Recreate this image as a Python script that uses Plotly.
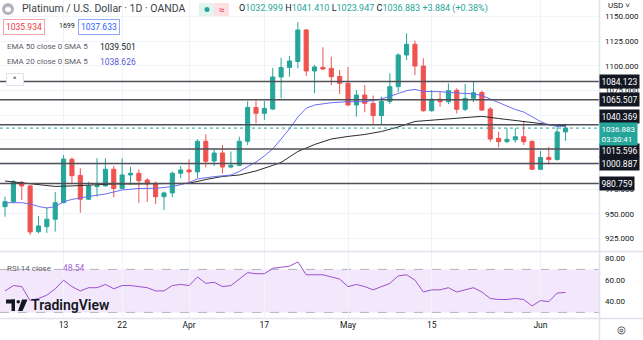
import plotly.graph_objects as go

# ---------------- data ----------------
dates = [
    "2023-03-02", "2023-03-03", "2023-03-06", "2023-03-07", "2023-03-08", "2023-03-09", "2023-03-10",
    "2023-03-13", "2023-03-14", "2023-03-15", "2023-03-16", "2023-03-17", "2023-03-20", "2023-03-21",
    "2023-03-22", "2023-03-23", "2023-03-24", "2023-03-27", "2023-03-28", "2023-03-29", "2023-03-30",
    "2023-03-31", "2023-04-03", "2023-04-04", "2023-04-05", "2023-04-06", "2023-04-10", "2023-04-11",
    "2023-04-12", "2023-04-13", "2023-04-14", "2023-04-17", "2023-04-18", "2023-04-19", "2023-04-20",
    "2023-04-21", "2023-04-24", "2023-04-25", "2023-04-26", "2023-04-27", "2023-04-28", "2023-05-01",
    "2023-05-02", "2023-05-03", "2023-05-04", "2023-05-05", "2023-05-08", "2023-05-09", "2023-05-10",
    "2023-05-11", "2023-05-12", "2023-05-15", "2023-05-16", "2023-05-17", "2023-05-18", "2023-05-19",
    "2023-05-22", "2023-05-23", "2023-05-24", "2023-05-25", "2023-05-26", "2023-05-29", "2023-05-30",
    "2023-05-31", "2023-06-01", "2023-06-02", "2023-06-05", "2023-06-06",
]
opens = [957.2, 962.2, 981.9, 978.2, 931.8, 936.9, 944.4, 961.2, 1005.2, 988.8, 964.7, 977.5, 978.2, 995.1,
         975.6, 989.3, 991.0, 984.2, 980.9, 967.3, 971.1, 991.0, 994.4, 992.4, 1023.5, 1003.5, 1011.6, 997.4,
         999.1, 1023.5, 1057.8, 1051.9, 1056.2, 1088.7, 1098.3, 1104.4, 1136.4, 1094.8, 1098.5, 1097.5, 1089.2,
         1082.3, 1060.3, 1070.4, 1062.0, 1049.5, 1063.9, 1078.9, 1111.0, 1121.9, 1099.8, 1054.5, 1066.1, 1063.6,
         1075.2, 1055.9, 1067.1, 1073.0, 1056.2, 1026.5, 1023.1, 1025.0, 1028.1, 1023.3, 995.1, 1007.1, 1005.0,
         1032.999]
highs = [967.3, 984.2, 983.2, 979.2, 947.7, 956.6, 972.1, 1009.6, 1007.1, 996.1, 982.5, 1006.3, 1006.3, 998.4,
         1006.3, 997.5, 994.9, 986.0, 982.7, 972.4, 992.7, 998.4, 1005.2, 1025.5, 1030.6, 1015.7, 1019.7, 1013.1,
         1028.2, 1064.1, 1064.4, 1064.4, 1097.8, 1108.0, 1110.0, 1144.2, 1137.4, 1100.9, 1118.8, 1109.3, 1095.8,
         1098.9, 1075.5, 1080.6, 1069.9, 1068.7, 1092.5, 1112.7, 1133.0, 1125.5, 1107.7, 1075.5, 1073.8, 1082.3,
         1077.2, 1081.6, 1083.9, 1074.8, 1058.3, 1033.2, 1036.7, 1036.7, 1043.4, 1024.8, 1013.6, 1018.0, 1039.0,
         1041.410]
lows = [947.0, 960.6, 963.9, 928.5, 930.2, 930.5, 931.8, 960.6, 980.9, 951.0, 963.9, 967.3, 977.5, 966.5,
        974.8, 979.2, 961.2, 961.9, 959.9, 953.8, 966.7, 986.0, 981.5, 986.0, 996.9, 998.4, 991.0, 996.1,
        998.1, 1019.7, 1041.7, 1045.1, 1055.2, 1067.1, 1089.0, 1097.5, 1089.7, 1072.2, 1095.8, 1080.6, 1071.5,
        1059.3, 1048.4, 1052.9, 1040.0, 1040.0, 1061.3, 1073.5, 1105.9, 1090.7, 1053.5, 1053.5, 1058.3, 1061.3,
        1051.7, 1054.2, 1063.3, 1054.2, 1023.1, 1017.2, 1021.5, 1022.1, 1019.7, 994.4, 994.4, 1000.0, 1003.8,
        1023.947]
closes = [962.2, 982.5, 978.2, 931.5, 937.6, 944.4, 961.2, 1005.5, 988.6, 964.7, 978.2, 978.5, 995.1, 975.6,
          989.3, 991.0, 983.5, 980.2, 967.3, 971.1, 991.0, 994.4, 992.4, 1023.5, 1003.2, 1011.6, 997.4, 999.1,
          1023.5, 1057.8, 1051.9, 1056.8, 1088.7, 1098.3, 1104.9, 1136.4, 1094.8, 1098.9, 1096.8, 1089.0, 1082.3,
          1060.3, 1070.4, 1062.0, 1049.5, 1063.9, 1078.9, 1111.0, 1121.9, 1099.8, 1054.5, 1066.1, 1063.6, 1074.8,
          1055.9, 1067.1, 1072.8, 1055.2, 1025.8, 1023.1, 1025.5, 1028.1, 1023.1, 995.1, 1007.1, 1005.0, 1032.999,
          1036.883]

# EMA 20 (blue) read at selected candles (0-based candle index)
ema20_idx = [0, 2, 3, 4, 5, 6, 7, 8, 10, 12, 14, 16, 18, 20, 22, 23, 25, 27, 28, 29, 30, 31, 32, 33, 34, 35,
             36, 37, 38, 39, 41, 43, 45, 46, 47, 48, 49, 50, 52, 54, 56, 57, 58, 59, 60, 61, 62, 63, 64, 65, 66, 67]
ema20_val = [961.2, 961.2, 959.9, 957.4, 955.8, 957.2, 962.2, 964.5, 967.5, 970.0, 974.1, 975.6, 975.8, 977.5,
             981.7, 985.3, 987.6, 989.3, 992.9, 997.4, 1002.5, 1008.6, 1015.7, 1025.8, 1036.0, 1048.1, 1057.0,
             1060.3, 1061.6, 1062.6, 1063.6, 1063.6, 1066.4, 1068.9, 1072.0, 1074.8, 1076.2, 1074.0, 1073.8,
             1072.5, 1071.5, 1069.9, 1066.4, 1062.3, 1058.6, 1055.7, 1053.2, 1048.1, 1043.6, 1040.0, 1038.7, 1038.626]

# EMA 50 (black) read at selected candles
ema50_idx = [0, 2, 4, 6, 8, 10, 13, 16, 19, 22, 24, 26, 28, 30, 32, 33, 34, 35, 37, 39, 41, 43, 45, 47, 49,
             52, 55, 57, 59, 62, 64, 66, 67]
ema50_val = [983.2, 981.5, 979.2, 977.7, 978.2, 979.2, 980.2, 980.2, 980.2, 980.9, 984.7, 987.8, 989.3, 993.4,
             999.0, 1002.0, 1007.6, 1013.1, 1020.2, 1025.8, 1028.4, 1030.4, 1033.4, 1038.0, 1043.6, 1045.8,
             1047.6, 1048.8, 1046.6, 1043.6, 1041.0, 1039.5, 1039.501]

rsi_val = [50, 55, 54, 41, 43, 46, 52, 60, 54, 50, 53, 53, 56, 52, 55, 55, 54, 53, 50, 50, 55, 56, 55, 63,
           57, 58, 54, 55, 61, 67, 66, 66, 71, 72, 73, 77, 65, 65, 65, 63, 61, 54, 56, 54, 51, 54, 57, 64,
           65, 60, 49, 51, 51, 53, 49, 51, 53, 49, 43, 42, 42, 43, 42, 36, 41, 40, 48, 48.54]

levels = [1084.123, 1065.507, 1040.369, 1015.596, 1000.887, 980.759]
level_shift = [0, 0, 8, -1, 0, 0]
last_price = 1036.883
countdown = "03:30:41"

price_ticks = [925, 950, 975, 1000, 1025, 1050, 1075, 1100, 1125, 1150]
hidden_ticks = [1000, 1025, 1050]
rsi_ticks = [40, 60, 80]

time_tickvals = ["2023-03-13", "2023-03-22", "2023-04-03", "2023-04-17", "2023-05-01", "2023-05-15", "2023-06-01"]
time_ticktext = ["13", "22", "Apr", "17", "May", "15", "Jun"]

# ---------------- style ----------------
UP = "#26a69a"
DOWN = "#ef5350"
TXT = "#131722"
GRID = "#f0f3fa"
BORDER = "#e0e3eb"
FONT = "Roboto, Arial, sans-serif"

W, H = 643, 340
PL, PR = 0, 599
PT, PB = 0, 318


def ax(px):
    return (px - PL) / (PR - PL)


def ay(py):
    return 1 - (py - PT) / (PB - PT)


fig = go.Figure()

fig.add_trace(go.Candlestick(
    x=dates, open=opens, high=highs, low=lows, close=closes,
    increasing=dict(line=dict(color=UP, width=1), fillcolor=UP),
    decreasing=dict(line=dict(color=DOWN, width=1), fillcolor=DOWN),
    whiskerwidth=0, xaxis="x", yaxis="y", hoverinfo="skip",
))

fig.add_trace(go.Scatter(
    x=[dates[i] for i in ema50_idx], y=ema50_val, mode="lines",
    line=dict(color="#2b2b2b", width=1), xaxis="x", yaxis="y", hoverinfo="skip"))
fig.add_trace(go.Scatter(
    x=[dates[i] for i in ema20_idx], y=ema20_val, mode="lines",
    line=dict(color="#6b6bf2", width=1), xaxis="x", yaxis="y", hoverinfo="skip"))

fig.add_trace(go.Scatter(
    x=dates, y=rsi_val, mode="lines",
    line=dict(color="#9c4fd0", width=1), xaxis="x", yaxis="y2", hoverinfo="skip"))

shapes = []
annotations = []

# RSI band
shapes.append(dict(type="rect", xref="paper", yref="y2", x0=0, x1=1, y0=30, y1=70,
                   fillcolor="#f3e8fb", line=dict(width=0), layer="below"))
for v in (30, 70):
    shapes.append(dict(type="line", xref="paper", yref="y2", x0=0, x1=1, y0=v, y1=v,
                       line=dict(color="#b2b5be", width=1, dash="dash"), layer="below"))

# horizontal levels
for lv in levels:
    shapes.append(dict(type="line", xref="paper", yref="y", x0=0, x1=1, y0=lv, y1=lv,
                       line=dict(color="#4f5058", width=1.5), layer="above"))
# current price dotted
shapes.append(dict(type="line", xref="paper", yref="y", x0=0, x1=1, y0=last_price, y1=last_price,
                   line=dict(color=UP, width=1, dash="dot"), layer="above"))

# pane borders
shapes.append(dict(type="line", xref="paper", yref="paper", x0=ax(0), x1=ax(W), y0=ay(251.5), y1=ay(251.5),
                   line=dict(color=BORDER, width=1.5)))
shapes.append(dict(type="line", xref="paper", yref="paper", x0=ax(0), x1=ax(W), y0=ay(318.5), y1=ay(318.5),
                   line=dict(color=BORDER, width=1.5)))
shapes.append(dict(type="line", xref="paper", yref="paper", x0=ax(599.5), x1=ax(599.5), y0=ay(0), y1=ay(H),
                   line=dict(color=BORDER, width=1.5)))

# level labels on price axis
for lv, sh in zip(levels, level_shift):
    annotations.append(dict(x=1, xref="paper", y=lv, yref="y", xanchor="left", yanchor="middle",
                            yshift=sh, text=f"{lv:.3f}", showarrow=False, bgcolor=TXT,
                            font=dict(color="white", size=8.5, family=FONT), borderpad=1.5))
annotations.append(dict(x=1, xref="paper", y=last_price, yref="y", xanchor="left", yanchor="top",
                        yshift=6, text=f"{last_price:.3f}<br>{countdown}", showarrow=False, bgcolor=UP,
                        align="left", font=dict(color="white", size=8, family=FONT), borderpad=1.5))

# header texts
def txt(x, y, s, size=8.5, color=TXT, anchor="left", **kw):
    annotations.append(dict(x=ax(x), y=ay(y), xref="paper", yref="paper", xanchor=anchor, yanchor="middle",
                            text=s, showarrow=False, font=dict(size=size, color=color, family=FONT), **kw))

# symbol icon
shapes.append(dict(type="circle", xref="paper", yref="paper", x0=ax(2), x1=ax(14), y0=ay(15), y1=ay(3),
                   fillcolor="#b2b5be", line=dict(width=0)))
shapes.append(dict(type="circle", xref="paper", yref="paper", x0=ax(5), x1=ax(11), y0=ay(12), y1=ay(7),
                   fillcolor="white", line=dict(width=0)))
txt(20, 9, "Platinum / U.S. Dollar · 1D · OANDA", size=10.5, color="#3d3f47")
# status pill
shapes.append(dict(type="rect", xref="paper", yref="paper", x0=ax(199), x1=ax(214), y0=ay(16), y1=ay(3),
                   fillcolor="#e3f3f0", line=dict(width=0)))
shapes.append(dict(type="circle", xref="paper", yref="paper", x0=ax(204.5), x1=ax(209.5), y0=ay(12), y1=ay(7),
                   fillcolor=UP, line=dict(width=0)))
shapes.append(dict(type="rect", xref="paper", yref="paper", x0=ax(214), x1=ax(229), y0=ay(16), y1=ay(3),
                   fillcolor="#fde0e4", line=dict(width=0)))
txt(221.5, 9.5, "≈", size=10, color="#f23645", anchor="center")
ohlc = ('O<span style="color:#26a69a">1032.999</span> H<span style="color:#26a69a">1041.410</span> '
        'L<span style="color:#26a69a">1023.947</span> C<span style="color:#26a69a">1036.883</span> '
        '<span style="color:#26a69a">+3.884 (+0.38%)</span>')
txt(237, 9, ohlc, size=9)

annotations.append(dict(x=ax(3), y=ay(27), xref="paper", yref="paper", xanchor="left", yanchor="middle",
                        text="1035.934", showarrow=False, bordercolor="#f7a0a8", borderwidth=1, borderpad=2,
                        font=dict(size=8.5, color="#f23645", family=FONT)))
txt(57, 26, "1699", size=7)
annotations.append(dict(x=ax(78), y=ay(27), xref="paper", yref="paper", xanchor="left", yanchor="middle",
                        text="1037.633", showarrow=False, bordercolor="#8fa9ff", borderwidth=1, borderpad=2,
                        font=dict(size=8.5, color="#2962ff", family=FONT)))

txt(5, 47, "EMA 50 close 0 SMA 5", size=8, color="#5d606b")
txt(98, 47, "1039.501", size=8.5, color=TXT)
txt(5, 62, "EMA 20 close 0 SMA 5", size=8, color="#5d606b")
txt(98, 62, "1038.626", size=8.5, color="#5b5bd6")
annotations.append(dict(x=ax(14.5), y=ay(79), xref="paper", yref="paper", xanchor="center", yanchor="middle",
                        text="^", showarrow=False, bordercolor=BORDER, borderwidth=1, borderpad=1,
                        bgcolor="white", font=dict(size=8, color=TXT, family=FONT), width=14))

txt(5, 268, "RSI 14 close", size=8, color="#5d606b")
txt(61, 268, "48.54", size=8.5, color="#a65fd6")

# TradingView logo
shapes.append(dict(type="rect", xref="paper", yref="paper", x0=ax(6), x1=ax(15), y0=ay(303.5), y1=ay(299.5),
                   fillcolor=TXT, line=dict(width=0)))
shapes.append(dict(type="rect", xref="paper", yref="paper", x0=ax(11.5), x1=ax(15), y0=ay(311), y1=ay(299.5),
                   fillcolor=TXT, line=dict(width=0)))
shapes.append(dict(type="circle", xref="paper", yref="paper", x0=ax(16.5), x1=ax(20), y0=ay(303.5), y1=ay(300),
                   fillcolor=TXT, line=dict(width=0)))
shapes.append(dict(type="path", xref="paper", yref="paper",
                   path=f"M {ax(22)} {ay(299.5)} L {ax(27.5)} {ay(299.5)} L {ax(22.5)} {ay(311)} L {ax(18)} {ay(311)} Z",
                   fillcolor=TXT, line=dict(width=0)))
annotations.append(dict(x=ax(29), y=ay(305), xref="paper", yref="paper", xanchor="left", yanchor="middle",
                        text="TradingView", showarrow=False,
                        font=dict(size=14, color=TXT, family=FONT, weight=600)))

txt(606, 6, "USD ˅", size=8)
txt(621, 329, "◎", size=10, anchor="center")

ticktext = ["" if t in hidden_ticks else f"{t:.3f}" for t in price_ticks]

fig.update_layout(
    width=W, height=H,
    margin=dict(l=PL, r=W - PR, t=PT, b=H - PB, pad=0),
    paper_bgcolor="white", plot_bgcolor="white",
    showlegend=False, hovermode=False, dragmode=False,
    font=dict(family=FONT, color=TXT, size=8.5),
    xaxis=dict(
        type="date", anchor="y2", domain=[0, 1],
        range=["2023-03-01 09:36", "2023-06-12"],
        rangebreaks=[dict(bounds=["sat", "mon"]), dict(values=["2023-04-07"])],
        rangeslider=dict(visible=False),
        tickmode="array", tickvals=time_tickvals, ticktext=time_ticktext,
        tickfont=dict(size=8.5, color=TXT), ticks="", showgrid=True, gridcolor=GRID,
        zeroline=False, showline=False, fixedrange=True,
    ),
    yaxis=dict(
        domain=[ay(251), 1], range=[912.2, 1166.8], side="right", anchor="x",
        tickmode="array", tickvals=price_ticks, ticktext=ticktext,
        tickfont=dict(size=8, color=TXT), ticks="", ticklabelstandoff=5,
        showgrid=True, gridcolor=GRID, zeroline=False, showline=False, fixedrange=True,
    ),
    yaxis2=dict(
        domain=[0, ay(252)], range=[24.8, 86.2], side="right", anchor="x",
        tickmode="array", tickvals=rsi_ticks, ticktext=[f"{t:.2f}" for t in rsi_ticks],
        tickfont=dict(size=8, color=TXT), ticks="", ticklabelstandoff=5,
        showgrid=False, zeroline=False, showline=False, fixedrange=True,
    ),
    shapes=shapes, annotations=annotations,
)

fig.write_html("out.html", config={"displayModeBar": False})
